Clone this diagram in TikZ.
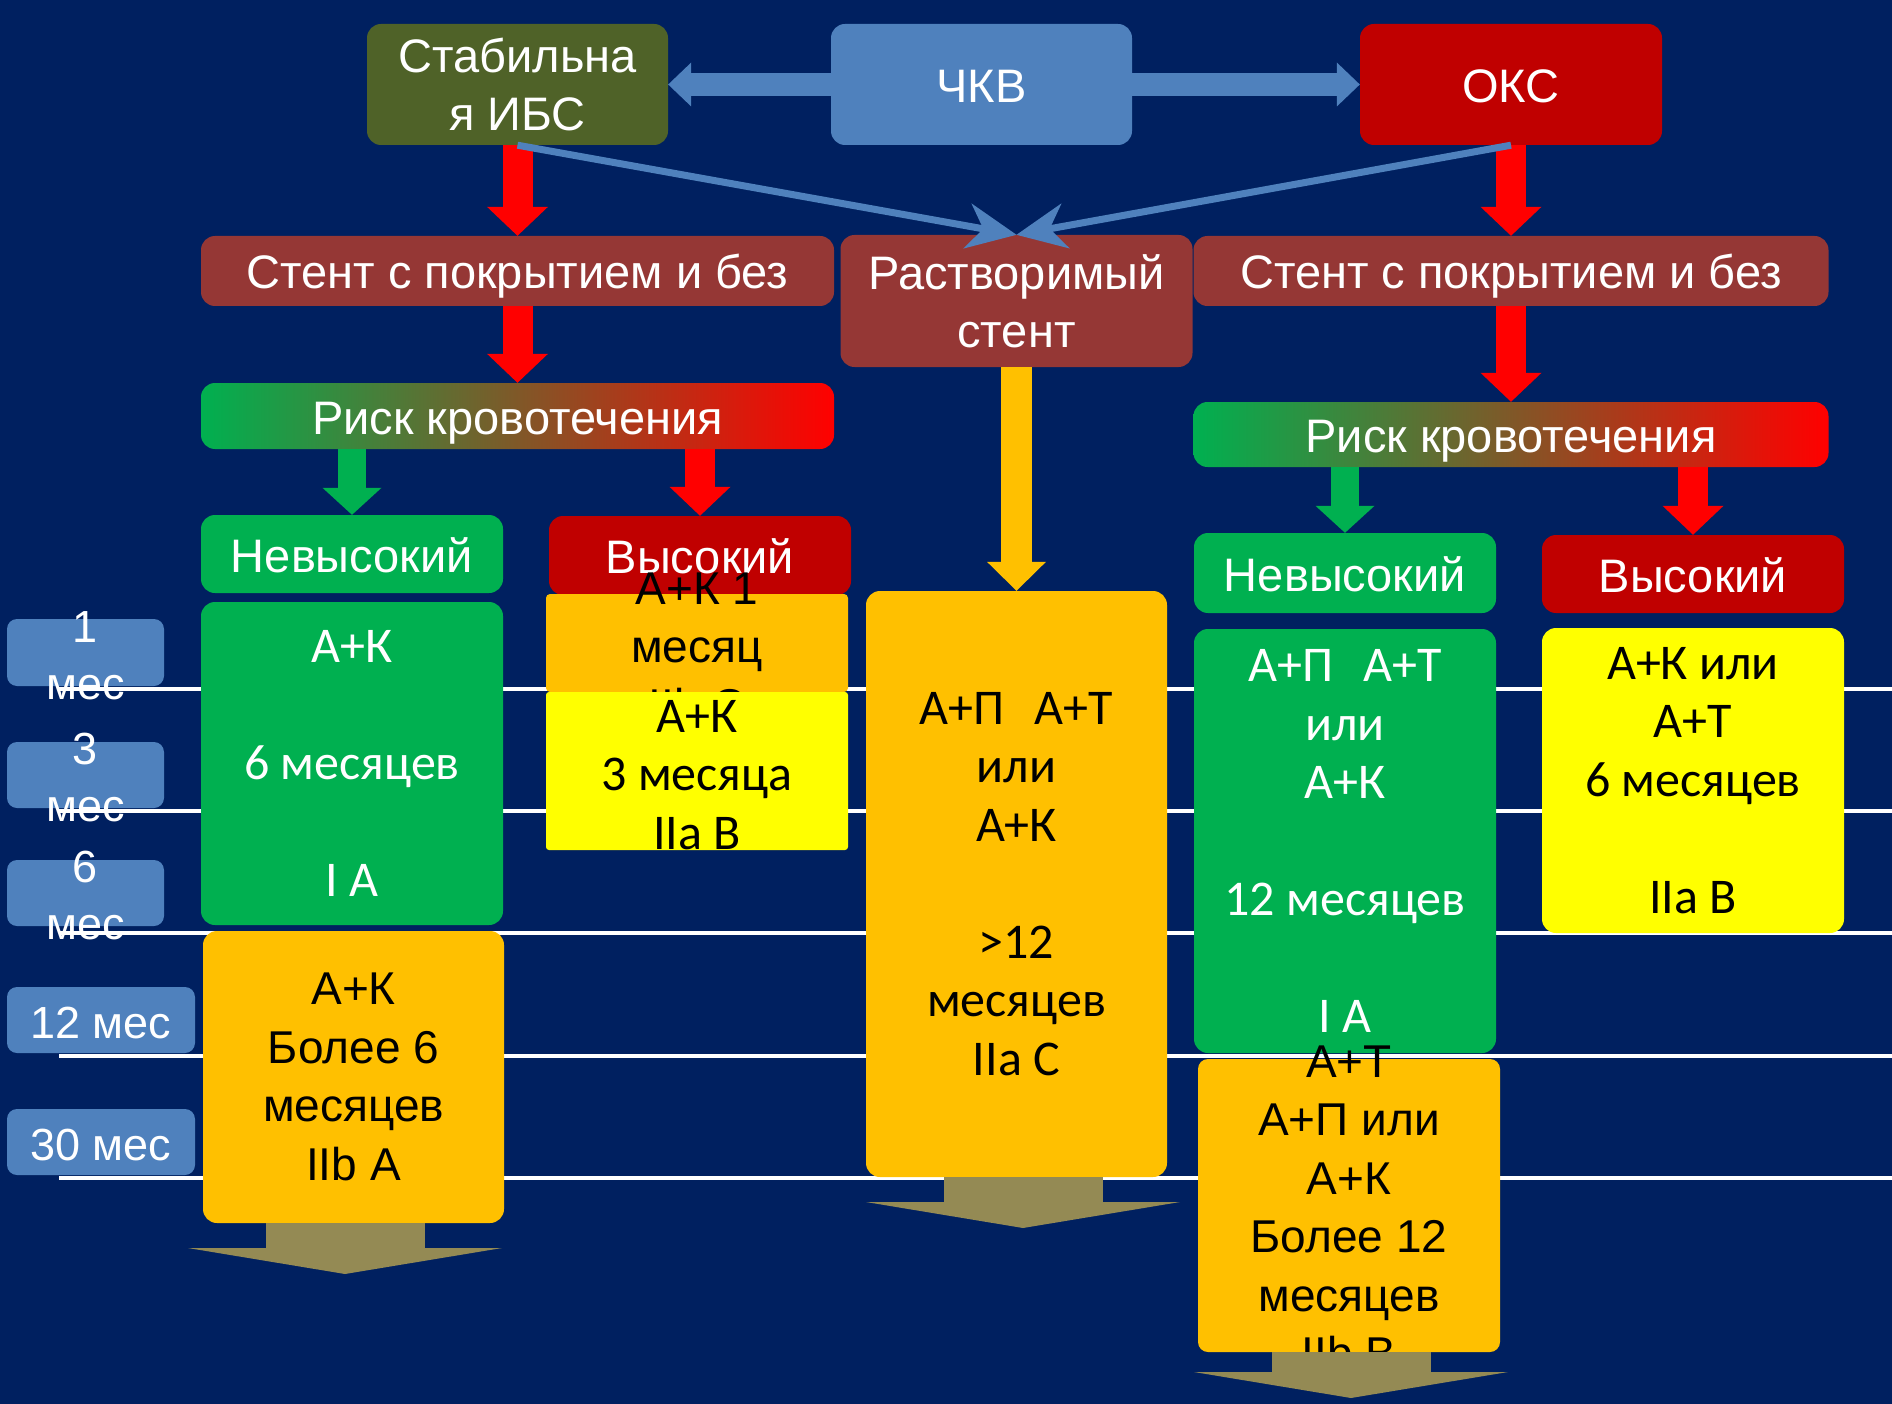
\documentclass[tikz,border=0pt]{standalone}
\usepackage{fontspec}
\setmainfont{Liberation Sans}
\newfontfamily\calfont{Carlito}
\usepackage{tikz}
\usetikzlibrary{arrows.meta}

\definecolor{navy}{RGB}{0,32,96}
\definecolor{ibsolive}{RGB}{79,98,40}
\definecolor{pciblue}{RGB}{79,129,189}
\definecolor{darkred}{RGB}{192,0,0}
\definecolor{stentbrown}{RGB}{149,55,53}
\definecolor{okgreen}{RGB}{0,176,80}
\definecolor{amber}{RGB}{255,192,0}
\definecolor{lemon}{RGB}{255,255,0}
\definecolor{khaki}{RGB}{148,138,84}

\newcommand{\headsize}{\fontsize{47}{57.6}\selectfont}
\newcommand{\arisize}{\fontsize{46}{58.5}\selectfont}
\newcommand{\calsize}{\calfont\fontsize{50}{58.5}\selectfont}
\newcommand{\monthsize}{\fontsize{45}{57}\selectfont}

\begin{document}
\begin{tikzpicture}[
    x=1pt, y=-1pt,
    box/.style={rectangle, rounded corners=14pt, inner sep=0pt, align=center,
        text=white, font=\headsize},
    oneline/.style={text height=36pt, text depth=0pt},
    content/.style={inner sep=0pt, align=center},
    monthbox/.style={rectangle, rounded corners=10pt, fill=pciblue, inner sep=0pt},
    redarrow/.style={draw=red, line width=30pt,
        -{Triangle[length=29pt, width=61pt, line width=0pt]}},
    greenarrow/.style={draw=okgreen, line width=28pt,
        -{Triangle[length=27pt, width=59pt, line width=0pt]}},
    amberarrow/.style={draw=amber, line width=31pt,
        -{Triangle[length=29pt, width=59pt, line width=0pt]}},
    pciarrow/.style={draw=pciblue, line width=23pt,
        -{Triangle[length=23pt, width=44pt, line width=0pt]}},
    thinarrow/.style={draw=pciblue, line width=7pt,
        -{Stealth[length=50pt, width=46pt, line width=0pt]}},
    timearrow/.style={draw=khaki, line width=159pt,
        -{Triangle[length=26pt, width=314pt, line width=0pt]}}
  ]

  \useasboundingbox (0,0) rectangle (1892,1404);
  \fill[navy] (0,0) rectangle (1892,1404);

  % time scale
  \foreach \ty in {689,811,933,1056,1178}
    \draw[white, line width=4pt] (59,\ty) -- (1892,\ty);

  \node[monthbox, minimum width=157pt, minimum height=67pt] (m1) at (85.5,652.5) {};
  \node[monthbox, minimum width=157pt, minimum height=66pt] (m3) at (85.5,775) {};
  \node[monthbox, minimum width=157pt, minimum height=66pt] (m6) at (85.5,893) {};
  \node[monthbox, oneline, minimum width=188pt, minimum height=66pt, text=white, font=\monthsize] (m12) at (101,1020) {12 мес};
  \node[monthbox, oneline, minimum width=188pt, minimum height=66pt, text=white, font=\monthsize] (m30) at (101,1142) {30 мес};
  \node[content, text=white, font=\monthsize] (m1txt) at (85.5,656) {1\\мес};
  \node[content, text=white, font=\monthsize] (m3txt) at (85.5,778) {3\\мес};
  \node[content, text=white, font=\monthsize] (m6txt) at (85.5,896) {6\\мес};

  % top row
  \node[box, fill=ibsolive, minimum width=301pt, minimum height=121pt] (ibs) at (517.5,84.5) {Стабильна\\я ИБС};
  \node[box, oneline, fill=pciblue, minimum width=301pt, minimum height=121pt] (pci) at (981.5,84.5) {ЧКВ};
  \node[box, oneline, fill=darkred, minimum width=302pt, minimum height=121pt] (oks) at (1511,84.5) {ОКС};

  \draw[pciarrow] (pci.west) -- (ibs.east);
  \draw[pciarrow] (pci.east) -- (oks.west);

  % stents
  \node[box, oneline, fill=stentbrown, minimum width=633pt, minimum height=70pt] (lstent) at (517.5,271) {Стент с покрытием и без};
  \node[box, fill=stentbrown, minimum width=352pt, minimum height=132pt] (sstent) at (1016.5,301) {Растворимый\\стент};
  \node[box, oneline, fill=stentbrown, minimum width=635pt, minimum height=70pt] (rstent) at (1511,271) {Стент с покрытием и без};

  \draw[redarrow] (ibs.south) -- (lstent.north);
  \draw[redarrow] (oks.south) -- (rstent.north);
  \draw[thinarrow] (ibs.south) -- (sstent.north);
  \draw[thinarrow] (oks.south) -- (sstent.north);

  % bleeding risk
  \node[box, oneline, left color=okgreen, right color=red, minimum width=633pt, minimum height=66pt] (lrisk) at (517.5,416) {Риск кровотечения};
  \node[box, oneline, left color=okgreen, right color=red, minimum width=635pt, minimum height=65pt] (rrisk) at (1511,434.5) {Риск кровотечения};

  \draw[redarrow] (lstent.south) -- (lrisk.north);
  \draw[redarrow] (rstent.south) -- (rrisk.north);

  \node[box, oneline, fill=okgreen, minimum width=302pt, minimum height=78pt] (llow) at (352,554) {Невысокий};
  \node[box, oneline, fill=darkred, minimum width=302pt, minimum height=79pt] (lhigh) at (700,555.5) {Высокий};
  \node[box, oneline, fill=okgreen, minimum width=302pt, minimum height=80pt] (rlow) at (1345,573) {Невысокий};
  \node[box, oneline, fill=darkred, minimum width=302pt, minimum height=78pt] (rhigh) at (1693,574) {Высокий};

  \draw[greenarrow] (lrisk.south -| llow.north) -- (llow.north);
  \draw[redarrow] (lrisk.south -| lhigh.north) -- (lhigh.north);
  \draw[greenarrow] (rrisk.south -| rlow.north) -- (rlow.north);
  \draw[redarrow] (rrisk.south -| rhigh.north) -- (rhigh.north);

  % therapy, left branch
  \node[box, fill=okgreen, minimum width=302pt, minimum height=323pt, font=\calsize] (lgreen) at (352,763.5)
    {А+К\\[58.5pt]6 месяцев\\[58.5pt]I A};
  \node[box, fill=amber, rounded corners=4pt, minimum width=302pt, minimum height=98pt] (lamber) at (697,643) {};
  \node[content, font=\arisize] (lambertxt) at (697,647) {А+К 1\\месяц\\IIb C};
  \node[box, fill=lemon, rounded corners=3pt, minimum width=302pt, minimum height=158pt] (llemon) at (697,771) {};
  \node[content, font=\calsize] (llemontxt) at (697,775) {А+К\\3 месяца\\IIa B};
  \node[box, fill=amber, text=black, minimum width=301pt, minimum height=292pt, font=\arisize] (llong) at (353.5,1077)
    {А+К\\Более 6\\месяцев\\IIb A};

  % therapy, soluble stent
  \node[box, fill=amber, text=black, minimum width=301pt, minimum height=586pt, font=\calsize] (mid) at (1016.5,884)
    {А+П\hspace{30pt}А+Т\\или\\А+К\\[58.5pt]>12\\месяцев\\IIa C};
  \draw[amberarrow] (sstent.south) -- (mid.north);

  % therapy, right branch
  \node[box, fill=okgreen, minimum width=302pt, minimum height=424pt, font=\calsize] (rgreen) at (1345,841)
    {А+П\hspace{30pt}А+Т\\или\\А+К\\[58.5pt]12 месяцев\\[58.5pt]I A};
  \node[box, fill=lemon, text=black, minimum width=302pt, minimum height=305pt, font=\calsize] (rlemon) at (1693,780.5)
    {А+К или\\А+Т\\6 месяцев\\[58.5pt]IIa B};
  \node[box, fill=amber, rounded corners=10pt, minimum width=302pt, minimum height=293pt] (rlong) at (1349,1205.5) {};
  \node[content, font=\arisize] (rlongtxt) at (1349,1208)
    {А+Т\\А+П или\\А+К\\Более 12\\месяцев\\IIb B};

  % further on
  \coordinate (lnext) at (345,1274);
  \coordinate (mnext) at (1023,1228);
  \coordinate (rnext) at (1351,1398);
  \draw[timearrow] (llong.south -| lnext) -- (lnext);
  \draw[timearrow] (mid.south -| mnext) -- (mnext);
  \draw[timearrow] (rlong.south -| rnext) -- (rnext);

\end{tikzpicture}
\end{document}
